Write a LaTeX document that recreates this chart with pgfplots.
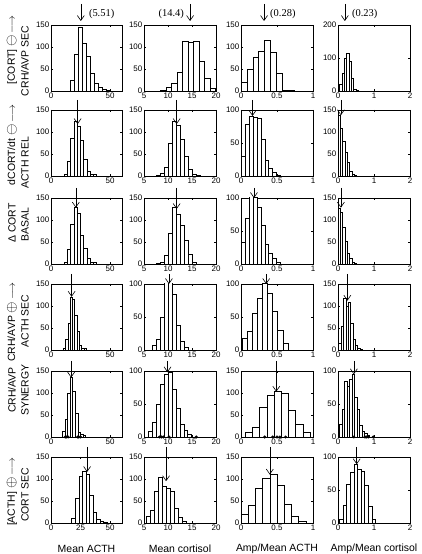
\documentclass[border=0pt]{standalone}
\usepackage{pgfplots}
\pgfplotsset{compat=1.18}
\usetikzlibrary{arrows.meta}
\usepackage{fontspec}
\setmainfont{Liberation Sans}
\newfontfamily\seriffont{Liberation Serif}
\pgfplotsset{
 panel/.style={scale only axis, width=72bp, height=66bp, anchor=south west,
  ymin=0, axis line style={line width=0.55bp},
  every tick/.style={black, line width=0.4bp}, major tick length=2bp,
  tick label style={font=\fontsize{8}{8}\selectfont},
  /pgf/number format/assume math mode=true,
  clip mode=individual,
  xticklabel style={inner sep=1.5bp}, yticklabel style={inner sep=1.5bp}},
 c1/.style={xmin=0,xmax=60,xtick={0,50}},
 c2/.style={xmin=5,xmax=20,xtick={5,10,15,20}},
 c3/.style={xmin=0,xmax=1,xtick={0,0.5,1}},
 c4/.style={xmin=0,xmax=2,xtick={0,1,2}},
 ya/.style={ymax=150,ytick={0,50,100,150}},
 yb/.style={ymax=100,ytick={0,50,100}},
 yc/.style={ymax=200,ytick={0,100,200}},
 hist/.style={ybar interval, fill=white, draw=black, line width=0.45bp},
 star/.style={only marks, mark=*, mark size=1.3bp, black},
 xl/.style={xlabel style={font=\fontsize{10.5}{11}\selectfont, at={(axis description cs:0.5,0)}, anchor=center, yshift=-26bp}},
}
\tikzset{arr/.style={-{Straight Barb[length=5bp,width=7bp]}, line width=0.6bp, black}}
\newcommand\arrdown[3]{\draw[arr] ([yshift=10bp]axis cs:#1,#2) -- (axis cs:#1,#3);}
\newcommand\arrtop[2]{\draw[arr] ([yshift=21bp]axis cs:#1,#2) -- ([yshift=4bp]axis cs:#1,#2);}
\newcommand\om{\raisebox{-0.5bp}{\scalebox{1.35}{$\ominus$}}}
\newcommand\op{\raisebox{-0.5bp}{\scalebox{1.35}{$\oplus$}}}
\newcommand\lra{$\longrightarrow$}
\begin{document}
\begin{tikzpicture}
\useasboundingbox (0,0) rectangle (422bp,554bp);
% row labels
\tikzset{rl/.style={rotate=90, anchor=center, inner sep=0pt, font=\fontsize{10.5}{11}\selectfont}}
\node[rl] at (12bp,504bp) {[CORT] \om\,\lra};
\node[rl] at (25bp,493bp) {CRH/AVP SEC};
\node[rl] at (12bp,409bp) {dCORT/dt \om\,\lra};
\node[rl] at (25bp,391bp) {ACTH REL};
\node[rl] at (12bp,331bp) {Δ CORT};
\node[rl] at (25bp,329bp) {BASAL};
\node[rl] at (12bp,232bp) {CRH/AVP \op\,\lra};
\node[rl] at (25bp,233bp) {ACTH SEC};
\node[rl] at (12bp,164bp) {CRH/AVP};
\node[rl] at (25bp,164bp) {SYNERGY};
\node[rl] at (12bp,62bp) {[ACTH] \op\,\lra};
\node[rl] at (25bp,59bp) {CORT SEC};

% ===== Row 1 =====
\begin{axis}[panel,c1,ya,at={(51bp,463bp)},width=71bp]
\addplot[hist] coordinates {(16.2,25)(19.6,83)(23.0,144)(26.4,109)(29.8,78)(33.2,40)(36.6,17)(40.0,8)(43.4,3)(46.8,1)(50.2,0)};
\arrtop{25.2}{150}
\node[anchor=west,inner sep=0pt,font=\seriffont\fontsize{10.5}{10}\selectfont] at ([xshift=8bp,yshift=11bp]axis cs:25.2,150) {(5.51)};
\end{axis}
\begin{axis}[panel,c2,ya,at={(144bp,463bp)}]
\addplot[hist] coordinates {(8.4,2)(9.55,8)(10.7,18)(11.85,42)(13.0,114)(14.15,110)(15.3,113)(16.45,68)(17.6,28)(18.75,6)(19.9,0)};
\arrtop{14.6}{150}
\node[anchor=east,inner sep=0pt,font=\seriffont\fontsize{10.5}{10}\selectfont] at ([xshift=-6bp,yshift=11bp]axis cs:14.6,150) {(14.4)};
\end{axis}
\begin{axis}[panel,c3,ya,at={(241bp,463bp)}]
\addplot[hist] coordinates {(0,20)(0.082,50)(0.164,76)(0.246,90)(0.328,115)(0.41,88)(0.492,41)(0.574,2)(0.656,1)(0.738,0)};
\arrtop{0.32}{150}
\node[anchor=west,inner sep=0pt,font=\seriffont\fontsize{10.5}{10}\selectfont] at ([xshift=6bp,yshift=11bp]axis cs:0.32,150) {(0.28)};
\end{axis}
\begin{axis}[panel,c4,yc,at={(338bp,463bp)}]
\addplot[hist] coordinates {(0.045,20)(0.11,55)(0.175,100)(0.24,115)(0.305,90)(0.37,38)(0.435,6)(0.5,1)(0.565,0)};
\arrtop{0.19}{200}
\node[anchor=west,inner sep=0pt,font=\seriffont\fontsize{10.5}{10}\selectfont] at ([xshift=7bp,yshift=11bp]axis cs:0.19,200) {(0.23)};
\end{axis}

% ===== Row 2 =====
\begin{axis}[panel,c1,ya,at={(51bp,378bp)},width=71bp]
\addplot[hist] coordinates {(11,3)(13.75,33)(16.5,86)(19.25,125)(22,113)(24.75,82)(27.5,38)(30.25,10)(33,4)(35.75,5)(38.5,0)};
\arrdown{22.5}{150}{118}
\end{axis}
\begin{axis}[panel,c2,ya,at={(144bp,378bp)}]
\addplot[hist] coordinates {(7.6,2)(8.42,6)(9.24,19)(10.06,74)(10.88,124)(11.7,115)(12.52,83)(13.34,45)(14.16,15)(14.98,4)(15.8,2)(16.62,0)};
\arrdown{11.8}{150}{118}
\end{axis}
\begin{axis}[panel,c3,yb,at={(241bp,378bp)}]
\addplot[hist] coordinates {(0,30)(0.055,78)(0.11,91)(0.165,89)(0.22,87)(0.275,56)(0.33,24)(0.385,12)(0.44,5)(0.495,1)(0.55,0)};
\arrdown{0.16}{100}{91}
\end{axis}
\begin{axis}[panel,c4,ya,at={(338bp,378bp)}]
\addplot[hist] coordinates {(0,138)(0.065,108)(0.13,80)(0.195,55)(0.26,32)(0.325,11)(0.39,4)(0.455,1)(0.52,0)};
\arrdown{0.08}{150}{138}
\end{axis}

% ===== Row 3 =====
\begin{axis}[panel,c1,ya,at={(51bp,290bp)},width=71bp]
\addplot[hist] coordinates {(11,4)(13.75,33)(16.5,90)(19.25,130)(22,115)(24.75,66)(27.5,36)(30.25,13)(33,4)(35.75,5)(38.5,0)};
\arrdown{21}{150}{128}
\end{axis}
\begin{axis}[panel,c2,ya,at={(144bp,290bp)}]
\addplot[hist] coordinates {(7.6,1)(8.42,5)(9.24,20)(10.06,70)(10.88,128)(11.7,112)(12.52,88)(13.34,55)(14.16,22)(14.98,3)(15.8,0)};
\arrdown{11.8}{150}{125}
\end{axis}
\begin{axis}[panel,c3,yb,at={(241bp,290bp)}]
\addplot[hist] coordinates {(0,33)(0.055,70)(0.11,102)(0.165,101)(0.22,86)(0.275,58)(0.33,30)(0.385,17)(0.44,8)(0.495,3)(0.55,0)};
\arrdown{0.18}{100}{100}
\end{axis}
\begin{axis}[panel,c4,ya,at={(338bp,290bp)}]
\addplot[hist] coordinates {(0,127)(0.065,117)(0.13,83)(0.195,52)(0.26,25)(0.325,12)(0.39,5)(0.455,1)(0.52,0)};
\arrdown{0.08}{150}{128}
\end{axis}

% ===== Row 4 =====
\begin{axis}[panel,c1,ya,at={(51bp,204bp)},width=71bp]
\addplot[hist] coordinates {(10.3,3)(12.24,25)(14.18,60)(16.12,121)(18.06,116)(20,80)(21.94,43)(23.88,11)(25.82,5)(27.76,3)(29.7,0)};
\arrdown{17.4}{150}{121}
\end{axis}
\begin{axis}[panel,c2,yb,at={(144bp,204bp)}]
\addplot[hist] coordinates {(6.8,7)(7.62,17)(8.44,49)(9.26,115)(10.08,110)(10.9,84)(11.72,37)(12.54,13)(13.36,4)(14.18,0)};
\arrdown{10.2}{100}{100}
\end{axis}
\begin{axis}[panel,c3,yb,at={(241bp,204bp)}]
\addplot[hist] coordinates {(0.02,18)(0.09,29)(0.16,56)(0.23,79)(0.30,101)(0.37,86)(0.44,58)(0.51,30)(0.58,10)(0.65,0)};
\arrdown{0.35}{100}{100}
\end{axis}
\begin{axis}[panel,c4,ya,at={(338bp,204bp)}]
\addplot[hist] coordinates {(0.02,15)(0.085,55)(0.15,118)(0.215,100)(0.28,108)(0.345,60)(0.41,25)(0.475,10)(0.54,4)(0.605,1)(0.67,0)};
\arrdown{0.26}{150}{112}
\end{axis}

% ===== Row 5 =====
\begin{axis}[panel,c1,ya,at={(51bp,117bp)},width=71bp]
\addplot[hist] coordinates {(9.5,13)(11.7,40)(13.9,99)(16.1,135)(18.3,105)(20.5,55)(22.7,10)(24.9,6)(27.1,3)(29.3,0)};
\addplot[star] coordinates {(12,0)(13,0)(14.5,0)(22.5,0)(23.5,0)(25,0)};
\arrdown{17}{150}{135}
\end{axis}
\begin{axis}[panel,c2,yb,at={(144bp,117bp)}]
\addplot[hist] coordinates {(5.9,8)(6.72,22)(7.54,50)(8.36,80)(9.18,95)(10.0,98)(10.82,72)(11.64,43)(12.46,20)(13.28,10)(14.1,4)(14.92,0)};
\addplot[star] coordinates {(8.2,0)(8.6,0)(9.0,0)(10.2,0)(15.9,0)};
\arrdown{9.9}{100}{98}
\end{axis}
\begin{axis}[panel,c3,ya,at={(241bp,117bp)}]
\addplot[hist] coordinates {(0.06,10)(0.16,22)(0.26,68)(0.36,96)(0.46,103)(0.56,99)(0.66,61)(0.76,29)(0.86,11)(0.96,0)};
\addplot[star] coordinates {(0.33,0)(0.44,0)(0.5,0)(0.54,0)(0.62,0)};
\arrdown{0.49}{150}{103}
\end{axis}
\begin{axis}[panel,c4,yb,at={(338bp,117bp)}]
\addplot[hist] coordinates {(0.04,20)(0.11,42)(0.18,85)(0.25,77)(0.32,88)(0.39,95)(0.46,60)(0.53,42)(0.60,18)(0.67,8)(0.74,6)(0.81,2)(0.88,0)};
\addplot[star] coordinates {(0.44,0)(0.75,0)(0.8,0)(0.85,0)(0.98,0)};
\arrdown{0.44}{100}{95}
\end{axis}

% ===== Row 6 =====
\begin{axis}[panel,xmin=0,xmax=60,xtick={0,25,50},ya,at={(51bp,31bp)},width=71bp,xl,xlabel={Mean ACTH}]
\addplot[hist] coordinates {(17.5,10)(20.5,56)(23.5,107)(26.5,118)(29.5,111)(32.5,63)(35.5,25)(38.5,8)(41.5,4)(44.5,2)(47.5,0)};
\arrdown{30.5}{150}{116}
\end{axis}
\begin{axis}[panel,c2,ya,at={(144bp,31bp)},xl,xlabel={Mean cortisol}]
\addplot[hist] coordinates {(5.55,16)(6.37,30)(7.19,73)(8.01,104)(8.83,84)(9.65,80)(10.47,72)(11.29,34)(12.11,13)(12.93,3)(13.75,0)};
\arrdown{9.6}{150}{95}
\end{axis}
\begin{axis}[panel,c3,ya,at={(241bp,31bp)},xl,xlabel={Amp/Mean ACTH}]
\addplot[hist] coordinates {(0,19)(0.1,40)(0.2,78)(0.3,101)(0.4,110)(0.5,85)(0.6,43)(0.7,16)(0.8,5)(0.9,0)};
\arrdown{0.4}{150}{110}
\end{axis}
\begin{axis}[panel,c4,yb,at={(338bp,31bp)},xl,xlabel={Amp/Mean cortisol}]
\addplot[hist] coordinates {(0.04,5)(0.14,27)(0.24,58)(0.34,77)(0.44,89)(0.54,82)(0.64,79)(0.74,57)(0.84,26)(0.94,6)(1.04,0)};
\arrdown{0.52}{100}{89}
\end{axis}
\end{tikzpicture}
\end{document}
